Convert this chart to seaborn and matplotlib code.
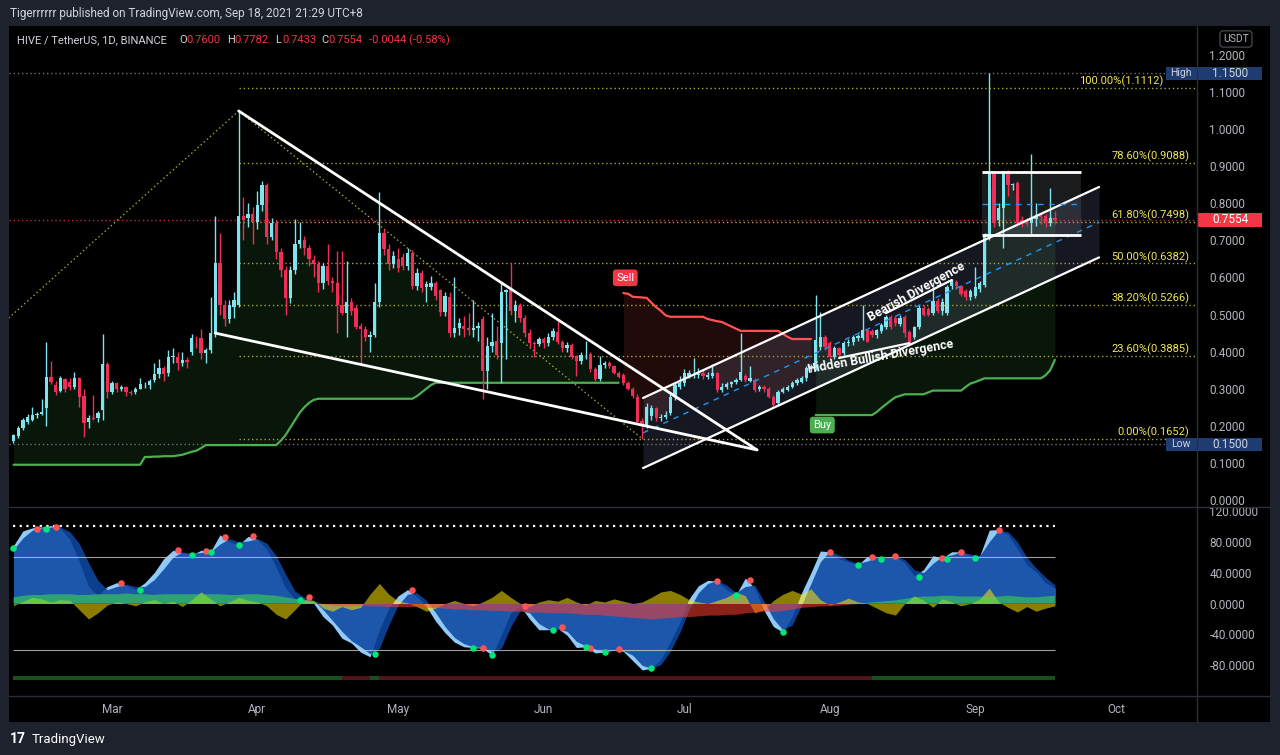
import numpy as np
import pandas as pd
import matplotlib
matplotlib.use('Agg')
import matplotlib.pyplot as plt
import matplotlib.dates as mdates
import matplotlib.transforms as mtrans
from matplotlib.patches import Rectangle
from matplotlib.lines import Line2D
from matplotlib.ticker import FormatStrFormatter
import seaborn as sns

sns.set_theme(style='dark', rc={'axes.facecolor': 'black', 'figure.facecolor': '#1e222d',
                                'axes.grid': False, 'text.color': '#d1d4dc',
                                'xtick.color': '#b2b5be', 'ytick.color': '#b2b5be'})
plt.rcParams['font.family'] = ['Roboto', 'DejaVu Sans']
plt.rcParams['axes.unicode_minus'] = False

# ----------------------- Données (HIVE/USDT, 1D) ------------------------
start_date = '2021-02-08'

opens = [
    .160, .172, .195, .210, .215, .230, .232, .248, .332, .310, .294, .325, .318, .305, .330, .280, .210, .222, .220, .243, .367,  # fev
    .292, .315, .300, .305, .292, .290, .300, .312, .310, .324, .340, .355, .342, .385, .385, .370, .378, .400, .437, .437,
    .397, .405, .450, .640, .525, .487, .520, .527, .766, .760, .770,  # mars
    .750, .795, .850, .710, .747, .669, .620, .545, .620, .690, .700, .680, .648, .635, .585, .632, .590, .585, .525, .505,
    .535, .518, .468, .460, .440, .445, .534, .720, .677, .635,  # avril
    .650, .655, .630, .666, .577, .612, .575, .575, .585, .566, .507, .547, .450, .465, .470, .465, .458, .465, .488, .348,
    .415, .430, .423, .560, .565, .510, .522, .490, .450, .423, .421,  # mai
    .433, .423, .439, .454, .427, .409, .418, .388, .376, .390, .394, .352, .325, .364, .369, .360, .343, .337, .315, .299,
    .279, .212, .202, .227, .247, .220, .223, .234, .279, .306,  # juin
    .315, .335, .335, .338, .342, .332, .334, .342, .297, .306, .312, .318, .324, .333, .322, .324, .300, .305, .300, .279,
    .261, .292, .297, .306, .315, .319, .328, .355, .355, .413, .439,  # juillet
    .423, .386, .409, .396, .422, .425, .438, .437, .458, .455, .445, .455, .467, .494, .490, .475, .494, .454, .440, .467,
    .517, .515, .503, .537, .510, .503, .577, .588, .577, .564, .548,  # aout
    .551, .568, .580, .712, .882, .755, .787, .882, .850, .855, .755, .752, .748, .757, .768, .765, .748, .760,  # sept
]
highs = [
    .178, .200, .220, .232, .250, .238, .272, .426, .375, .320, .335, .330, .330, .345, .332, .300, .228, .282, .240, .448, .372,
    .320, .318, .310, .308, .296, .305, .330, .318, .325, .370, .380, .362, .405, .410, .400, .398, .385, .448, .442, .460,
    .410, .547, .766, .720, .540, .540, .560, 1.049, .817, .800, .790,
    .833, .860, .855, .760, .755, .680, .630, .630, .757, .750, .712, .688, .660, .645, .640, .690, .600, .670, .670, .645,
    .545, .525, .478, .470, .455, .585, .830, .730, .690, .670,
    .680, .665, .680, .675, .625, .620, .590, .605, .590, .570, .560, .560, .600, .490, .495, .505, .540, .480, .495, .440,
    .505, .470, .588, .570, .640, .540, .530, .500, .460, .430, .440,
    .440, .450, .465, .484, .432, .425, .422, .392, .398, .430, .400, .358, .388, .375, .375, .365, .348, .342, .320, .305,
    .285, .222, .262, .255, .252, .232, .240, .285, .318, .334,
    .352, .350, .383, .355, .350, .345, .367, .345, .315, .318, .322, .330, .450, .340, .360, .328, .310, .310, .304, .284,
    .296, .304, .310, .320, .328, .335, .362, .368, .553, .508, .445,
    .430, .415, .412, .430, .435, .445, .448, .526, .462, .460, .462, .478, .498, .498, .495, .500, .498, .458, .470, .525,
    .525, .520, .589, .545, .545, .580, .595, .592, .580, .568, .570,
    .629, .590, .720, 1.150, .885, .800, .885, .890, .856, .860, .765, .760, .933, .800, .772, .770, .840, .778,
]
lows = [
    .155, .168, .190, .205, .212, .222, .228, .200, .312, .282, .290, .290, .296, .300, .250, .170, .195, .215, .210, .215, .275,
    .285, .290, .295, .280, .282, .285, .298, .302, .300, .318, .330, .320, .335, .370, .350, .360, .355, .390, .410, .380,
    .370, .395, .440, .500, .470, .478, .490, .520, .700, .735, .690,
    .730, .780, .690, .700, .650, .600, .500, .530, .610, .680, .660, .630, .600, .560, .570, .580, .560, .450, .500, .440,
    .500, .460, .364, .430, .400, .440, .520, .660, .620, .625,
    .615, .620, .620, .570, .565, .560, .535, .565, .540, .495, .495, .440, .440, .445, .440, .445, .440, .430, .272, .300,
    .400, .380, .315, .380, .500, .480, .480, .440, .410, .386, .415,
    .410, .415, .432, .420, .400, .400, .380, .333, .368, .380, .345, .320, .320, .355, .355, .340, .328, .310, .296, .275,
    .205, .165, .195, .215, .212, .212, .218, .230, .270, .300,
    .308, .330, .330, .330, .325, .326, .330, .290, .292, .300, .305, .312, .320, .318, .318, .292, .295, .292, .276, .252,
    .258, .288, .294, .302, .310, .316, .322, .345, .350, .405, .405,
    .380, .380, .385, .390, .415, .418, .430, .432, .425, .440, .438, .450, .462, .462, .470, .470, .440, .415, .435, .460,
    .495, .495, .500, .505, .500, .500, .570, .570, .550, .540, .540,
    .545, .560, .575, .700, .735, .740, .680, .820, .835, .740, .735, .738, .715, .740, .745, .735, .740, .743,
]
closes = [
    .175, .195, .215, .225, .230, .232, .236, .332, .318, .292, .330, .300, .305, .330, .278, .208, .220, .218, .235, .367, .292,
    .315, .300, .305, .290, .288, .300, .312, .313, .320, .340, .355, .340, .385, .386, .370, .378, .372, .437, .436, .397,
    .405, .450, .640, .525, .487, .527, .540, .766, .755, .770, .750,
    .795, .850, .710, .747, .669, .620, .545, .620, .690, .700, .680, .650, .635, .585, .632, .590, .584, .525, .505, .535,
    .510, .467, .460, .440, .445, .534, .720, .677, .635, .657,
    .625, .630, .666, .577, .612, .572, .582, .585, .550, .507, .550, .450, .465, .478, .460, .457, .465, .470, .348, .415,
    .425, .390, .560, .565, .510, .525, .490, .450, .423, .420, .433,
    .423, .439, .456, .427, .409, .418, .385, .376, .391, .391, .352, .325, .364, .370, .360, .343, .332, .315, .300, .280,
    .210, .202, .250, .247, .220, .225, .228, .279, .310, .315,
    .342, .342, .340, .339, .334, .337, .342, .297, .306, .312, .318, .324, .346, .324, .330, .297, .305, .298, .279, .256,
    .292, .300, .306, .315, .324, .328, .355, .360, .431, .439, .413,
    .386, .409, .391, .423, .427, .439, .442, .458, .427, .445, .458, .472, .494, .467, .477, .490, .449, .427, .467, .517,
    .499, .500, .537, .510, .535, .575, .591, .577, .555, .546, .563,
    .573, .586, .712, .880, .747, .787, .882, .848, .852, .747, .748, .745, .758, .765, .762, .750, .760, .7554,
]

# SuperTrend (ligne de suivi), un point par jour
trail = ([0.095] * 28 + [0.116, 0.116, 0.117, 0.117, 0.118, 0.118, 0.118, 0.120]
         + [0.122, 0.126, 0.130, 0.133, 0.140] + [0.148] * 16
         + [0.160, 0.175, 0.195, 0.215, 0.235, 0.250, 0.262, 0.270] + [0.273] * 21
         + [0.280, 0.290, 0.300, 0.310, 0.316] + [0.316] * 39
         + [0.558, 0.556, 0.548, 0.547, 0.546, 0.545, 0.532, 0.520, 0.510, 0.498] + [0.494] * 8
         + [0.488, 0.485, 0.482, 0.480, 0.474, 0.468, 0.462] + [0.456] * 9 + [0.448, 0.440] + [0.434] * 5
         + [0.229] * 13 + [0.237, 0.248, 0.258, 0.268, 0.277, 0.281] + [0.285] * 5 + [0.290]
         + [0.295] * 7 + [0.305, 0.314, 0.318, 0.323] + [0.328] * 13 + [0.336, 0.350, 0.378])
sell_day = 130
buy_day = 171

# Oscillateur (un point tous les 2 jours)
osc_step = 2
wt1 = [75, 94, 98, 99, 101, 97, 83, 55, 22, 10, 22, 27, 24, 18, 27, 40, 58, 69, 66, 63,
       69, 67, 89, 80, 76, 87, 83, 70, 47, 20, 6, 6, 0, -17, -28, -45, -51, -63, -69, -34,
       -6, 10, 18, 9, -4, -23, -38, -50, -56, -57, -58, -67, -40, -12, -3, -20, -34, -34, -32, -41,
       -57, -56, -64, -63, -60, -62, -74, -86, -84, -72, -50, -25, 6, 23, 30, 29, 18, 11, 33, 20,
       -9, -30, -37, -17, 14, 40, 68, 67, 58, 54, 50, 61, 59, 59, 62, 52, 36, 44, 62, 59,
       67, 67, 62, 62, 95, 96, 89, 71, 50, 41, 27, 20]
wt2 = [70, 85, 95, 98, 99, 99, 93, 78, 53, 30, 18, 22, 25, 22, 22, 31, 45, 60, 67, 65,
       66, 67, 77, 84, 80, 81, 84, 78, 62, 38, 16, 8, 4, -8, -22, -36, -48, -56, -65, -58,
       -28, -2, 12, 14, 4, -12, -30, -44, -52, -56, -57, -62, -58, -30, -9, -12, -26, -33, -33, -36,
       -49, -55, -59, -62, -61, -61, -67, -80, -84, -79, -62, -38, -8, 14, 26, 30, 24, 14, 22, 24,
       3, -20, -34, -28, -2, 26, 54, 68, 63, 56, 52, 55, 60, 59, 61, 57, 44, 40, 52, 61,
       63, 67, 64, 62, 80, 95, 93, 80, 60, 46, 34, 24]
money_flow = [8, 10, 11, 11, 12, 12, 12, 11, 11, 12, 12, 12, 13, 12, 12, 11, 12, 12, 12, 12,
              12, 12, 12, 11, 11, 12, 12, 11, 10, 8, 6, 4, 2, 0, -2, -3, -3, -2, -3, -3,
              -4, -4, -4, -4, -5, -5, -6, -7, -7, -8, -8, -9, -9, -10, -10, -11, -11, -12, -12, -12,
              -13, -14, -14, -15, -16, -17, -18, -19, -20, -19, -18, -17, -17, -16, -15, -15, -14, -14, -12, -11,
              -10, -10, -9, -7, -5, -4, -3, -3, -2, -1, 0, 1, 2, 3, 4, 6, 8, 9, 9, 10,
              10, 9, 9, 9, 8, 9, 10, 9, 8, 8, 9, 10]
wt_vwap = [-3, 3, 8, 6, 2, 5, 4, -8, -20, -12, -2, 2, 0, -3, 2, 5, 0, 3, -4, 5,
           15, 6, -3, 2, 8, 4, 2, -3, -14, -20, -8, 5, 4, -6, -10, -4, -8, -5, 12, 26,
           12, 3, 1, -4, -10, -6, 0, 4, 0, -3, 2, 8, 17, 8, 0, -4, 2, 5, 3, 8,
           2, -2, 4, 2, 6, 3, 0, 2, 8, 15, 17, 12, 5, 2, 0, 4, 8, 15, 10, -12,
           -8, 4, 12, 17, 12, 19, 5, -2, 2, 7, 2, 0, -6, -12, -15, 0, 10, 4, -5, 6,
           2, -3, 0, 6, 20, 2, -5, -11, -4, -10, -6, -3]

red_dot_days = [5, 9, 23, 35, 41, 45, 51, 63, 85, 100, 109, 117, 123, 129, 150, 157, 174, 183, 188, 198, 202, 210]
red_dot_vals = [97, 99, 27, 69, 68, 86, 87, 8, 17, -58, -3, -31, -57, -59, 29, 31, 67, 60, 62, 59, 67, 95]
green_dot_days = [0, 7, 27, 38, 42, 48, 61, 77, 98, 102, 115, 122, 126, 136, 154, 164, 180, 185, 193, 199, 205]
green_dot_vals = [72, 97, 17, 63, 67, 76, 5, -66, -57, -67, -34, -56, -63, -84, 11, -37, 50, 58, 34, 58, 59]

strip_starts = [0, 70, 76, 78, 183]
strip_ends = [70, 76, 78, 183, 222]
strip_bull = [True, False, True, False, True]

fib_pct = ['100.00%', '78.60%', '61.80%', '50.00%', '38.20%', '23.60%', '0.00%']
fib_vals = [1.1112, 0.9088, 0.7498, 0.6382, 0.5266, 0.3885, 0.1652]

last_price = 0.7554
high_price = 1.15
low_price = 0.15

# ----------------------- Mise en page ------------------------
W, H = 1280, 755
UP, DOWN = '#7ee5ee', '#ef2d56'
GREEN, RED = '#4caf50', '#ff5252'
FIB = '#a6a43c'


def px_box(x0, y0, x1, y1):
    return [x0 / W, 1 - y1 / H, (x1 - x0) / W, (y1 - y0) / H]


dates = pd.date_range(start_date, periods=len(closes), freq='D')
o, h, l, c = (np.array(v) for v in (opens, highs, lows, closes))
colors = np.where(c >= o, UP, DOWN)
ohlc4 = (o + h + l + c) / 4
trail = np.array(trail)

fig = plt.figure(figsize=(12.8, 7.55), dpi=100)
fig.patch.set_facecolor('#1e222d')
fig.patches.append(Rectangle((9 / W, 1 - 722 / H), 1261 / W, 696 / H, transform=fig.transFigure,
                             facecolor='black', edgecolor='none', zorder=-5))

ax = fig.add_axes(px_box(9, 26, 1197, 506))
ax2 = fig.add_axes(px_box(9, 508, 1197, 695), sharex=ax)
for a in (ax, ax2):
    a.set_facecolor('black')
    for s in a.spines.values():
        s.set_visible(False)

xleft = pd.Timestamp('2021-02-07 01:00')
xright = pd.Timestamp('2021-10-18 07:00')
ax.set_xlim(xleft, xright)
ax.set_ylim(-0.0162, 1.278)

# séparateurs
for seg in [((1197, 1197), (26, 722)), ((9, 1270), (507, 507)), ((9, 1270), (696, 696))]:
    fig.lines.append(Line2D(np.array(seg[0]) / W, 1 - np.array(seg[1]) / H, transform=fig.transFigure,
                            color='#2a2e39', lw=1))

# ---- SuperTrend : remplissage + ligne
segments = [(0, sell_day, GREEN), (sell_day, buy_day, RED), (buy_day, len(c), GREEN)]
for s, e, colr in segments:
    ax.fill_between(dates[s:e], trail[s:e], ohlc4[s:e], color=colr, alpha=0.13, lw=0, zorder=1)
    sns.lineplot(x=dates[s:e], y=trail[s:e], ax=ax, color=colr, lw=1.6, estimator=None, zorder=3)

# ---- canal ascendant
ch_x = [pd.Timestamp('2021-06-22 05:00'), pd.Timestamp('2021-09-27 10:00')]
ch_low, ch_mid, ch_up = [0.086, 0.654], [0.181, 0.749], [0.275, 0.844]
ax.fill_between(ch_x, ch_low, ch_up, color='#8c9ad0', alpha=0.16, lw=0, zorder=1)
ax.plot(ch_x, ch_up, color='white', lw=1.6, zorder=5)
ax.plot(ch_x, ch_low, color='white', lw=1.6, zorder=5)
ax.plot(ch_x, ch_mid, color='#2196f3', lw=1, ls=(0, (4, 4)), zorder=5)

# ---- rectangle de septembre
bx = [pd.Timestamp('2021-09-02 12:00'), pd.Timestamp('2021-09-23 14:00')]
ax.fill_between(bx, 0.715, 0.885, color='#9598a1', alpha=0.18, lw=0, zorder=1)
ax.hlines([0.885, 0.715], bx[0], bx[1], color='white', lw=2, zorder=5)
ax.hlines(0.798, bx[0], bx[1], color='#2196f3', lw=1, ls=(0, (4, 4)), zorder=5)

# ---- Fibonacci
fib_start = pd.Timestamp('2021-03-28')
ax.hlines(fib_vals, fib_start, xright, color=FIB, lw=1, ls=(0, (1, 2)), zorder=2)
blend = mtrans.blended_transform_factory(ax.transAxes, ax.transData)
for p, v in zip(fib_pct, fib_vals):
    # l'étiquette 100% est décalée pour ne pas passer sous l'étiquette "High"
    xa = 0.9715 if v > 1.0 else 0.9935
    ax.annotate(f'{p}({v:.4f})', xy=(xa, v), xycoords=blend, xytext=(0, 0.5),
                textcoords='offset points', ha='right', va='bottom', color='#f0e65a', fontsize=8, zorder=8)
ax.plot([pd.Timestamp('2021-02-05'), pd.Timestamp('2021-03-28')], [0.468, 1.049],
        color=FIB, lw=1, ls=(0, (1, 2)), zorder=2)
ax.plot([pd.Timestamp('2021-03-28'), pd.Timestamp('2021-06-22')], [1.049, 0.1652],
        color=FIB, lw=1, ls=(0, (1, 2)), zorder=2)

# lignes haut / bas / dernier prix
ax.axhline(high_price, color='#6b6e78', lw=1, ls=(0, (1, 2)), zorder=2)
ax.axhline(low_price, color='#6b6e78', lw=1, ls=(0, (1, 2)), zorder=2)
ax.axhline(last_price, color=DOWN, lw=1, ls=(0, (1, 2)), alpha=0.8, zorder=2)

# ---- bougies
ax.vlines(dates, l, h, colors=colors, lw=1, zorder=4)
ax.bar(dates, np.maximum(np.abs(c - o), 0.002), bottom=np.minimum(o, c), width=0.7,
       color=colors, lw=0, zorder=4)

# ---- biseau descendant
ax.plot([pd.Timestamp('2021-03-28'), pd.Timestamp('2021-07-16 12:00')], [1.049, 0.135],
        color='white', lw=2, zorder=6)
ax.plot([pd.Timestamp('2021-03-23'), pd.Timestamp('2021-07-16 12:00')], [0.45, 0.135],
        color='white', lw=2, zorder=6)

# ---- divergences
ax.plot([pd.Timestamp('2021-08-13'), pd.Timestamp('2021-08-27')], [0.504, 0.593], color='white', lw=1.6, zorder=6)
ax.plot([pd.Timestamp('2021-08-03'), pd.Timestamp('2021-08-18')], [0.383, 0.423], color='white', lw=1.6, zorder=6)
ax.text(pd.Timestamp('2021-08-19 10:00'), 0.561, 'Bearish Divergence', rotation=29, ha='center', va='center',
        color='white', fontsize=9, fontweight='bold', rotation_mode='anchor', zorder=9)
ax.text(pd.Timestamp('2021-08-11 18:00'), 0.386, 'Hidden Bullish Divergence', rotation=10, ha='center',
        va='center', color='white', fontsize=9, fontweight='bold', rotation_mode='anchor', zorder=9)

# ---- signaux Buy / Sell
ax.text(pd.Timestamp('2021-06-18 10:00'), 0.599, 'Sell', ha='center', va='center', color='white', fontsize=8,
        bbox=dict(boxstyle='round,pad=0.3', fc='#f23645', ec='none'), zorder=9)
ax.text(pd.Timestamp('2021-07-30 10:00'), 0.202, 'Buy', ha='center', va='center', color='white', fontsize=8,
        bbox=dict(boxstyle='round,pad=0.3', fc='#4caf50', ec='none'), zorder=9)

# ---- axe des prix
ax.yaxis.tick_right()
ax.set_yticks(np.arange(0, 1.21, 0.1))
ax.yaxis.set_major_formatter(FormatStrFormatter('%.4f'))
ax.tick_params(axis='y', length=0, pad=9, labelsize=8.5, colors='#b2b5be')
ax.tick_params(axis='x', labelbottom=False, length=0)
ax.set_xlabel('')
ax.set_ylabel('')

tag_h = 0.036
for label, v in [('High', high_price), ('Low', low_price)]:
    ax.add_patch(Rectangle((0.9735, v - tag_h / 2), 0.0265, tag_h, transform=blend, fc='#1e3c72',
                           ec='none', clip_on=False, zorder=9))
    ax.text(0.9867, v, label, transform=blend, ha='center', va='center', color='#d1d4dc', fontsize=7.5, zorder=10)
    ax.add_patch(Rectangle((1.0008, v - tag_h / 2), 0.054, tag_h, transform=blend, fc='#1e3c72',
                           ec='none', clip_on=False, zorder=9))
    ax.text(1.028, v, f'{v:.4f}', transform=blend, ha='center', va='center', color='#d1d4dc',
            fontsize=8.5, clip_on=False, zorder=10)
ax.add_patch(Rectangle((1.0008, last_price - tag_h / 2), 0.054, tag_h, transform=blend, fc='#f23645',
                       ec='none', clip_on=False, zorder=9))
ax.text(1.028, last_price, f'{last_price:.4f}', transform=blend, ha='center', va='center', color='white',
        fontsize=8.5, clip_on=False, zorder=10)
ax.text(1.0328, 1.243, 'USDT', transform=blend, ha='center', va='center', color='#b2b5be', fontsize=7.5,
        bbox=dict(boxstyle='round,pad=0.3', fc='black', ec='#50535e', lw=0.8), clip_on=False, zorder=10)

# ---- oscillateur (WaveTrend)
od = dates[::osc_step]
ax2.set_ylim(-118.5, 123.7)
ax2.fill_between(od, 0, wt1, color='#90caf9', lw=0, zorder=1)
ax2.fill_between(od, 0, wt2, color='#0d47a1', alpha=0.88, lw=0, zorder=2)
ax2.fill_between(od, 0, wt_vwap, color='#ffe500', alpha=0.55, lw=0, zorder=3)
mf = np.array(money_flow)
ax2.fill_between(od, 0, mf, where=mf >= 0, interpolate=True, color='#3ee145', alpha=0.55, lw=0, zorder=4)
ax2.fill_between(od, 0, mf, where=mf <= 0, interpolate=True, color='#ff3d2e', alpha=0.55, lw=0, zorder=4)
ax2.hlines(100, dates[0], dates[-1], color='white', lw=1.6, ls=(0, (1, 2)), zorder=5)
ax2.hlines([60, -60], dates[0], dates[-1], color='#c8c8c8', lw=0.8, alpha=0.8, zorder=5)
sns.scatterplot(x=dates[red_dot_days], y=red_dot_vals, ax=ax2, color='#ff5252', s=22, lw=0, zorder=6)
sns.scatterplot(x=dates[green_dot_days], y=green_dot_vals, ax=ax2, color='#00e676', s=22, lw=0, zorder=6)
for s, e, bull in zip(strip_starts, strip_ends, strip_bull):
    ax2.hlines(-97, dates[s], dates[e], color='#1b4d20' if bull else '#4d1619', lw=3, zorder=5)

ax2.yaxis.tick_right()
ax2.set_yticks([120, 80, 40, 0, -40, -80])
ax2.yaxis.set_major_formatter(FormatStrFormatter('%.4f'))
ax2.tick_params(axis='y', length=0, pad=9, labelsize=8.5, colors='#b2b5be')
ax2.xaxis.set_major_locator(mdates.MonthLocator())
ax2.xaxis.set_major_formatter(mdates.DateFormatter('%b'))
ax2.tick_params(axis='x', length=0, pad=6, labelsize=8.5, colors='#b2b5be')
ax2.set_xlabel('')
ax2.set_ylabel('')

# ---- textes d'en-tête et pied de page
fig.text(10 / W, 1 - 13 / H, 'Tigerrrrrr published on TradingView.com, Sep 18, 2021 21:29 UTC+8',
         color='#d1d4dc', fontsize=8.5, va='center')
fig.text(17 / W, 1 - 40 / H, 'HIVE / TetherUS, 1D, BINANCE', color='#d1d4dc', fontsize=8, va='center')
for xp, lab, val in [(179, 'O', '0.7600'), (227, 'H', '0.7782'), (275, 'L', '0.7433'), (321, 'C', '0.7554')]:
    fig.text(xp / W, 1 - 40 / H, lab, color='#d1d4dc', fontsize=8, va='center')
    fig.text((xp + 7) / W, 1 - 40 / H, val, color='#f23645', fontsize=8, va='center')
fig.text(369 / W, 1 - 40 / H, '-0.0044 (-0.58%)', color='#f23645', fontsize=8, va='center')
fig.text(10 / W, 1 - 739 / H, '17', color='white', fontsize=10, fontweight='bold', va='center')
fig.text(32 / W, 1 - 739 / H, 'TradingView', color='white', fontsize=9.5, va='center')

fig.savefig('out.png', dpi=100, facecolor=fig.get_facecolor())
